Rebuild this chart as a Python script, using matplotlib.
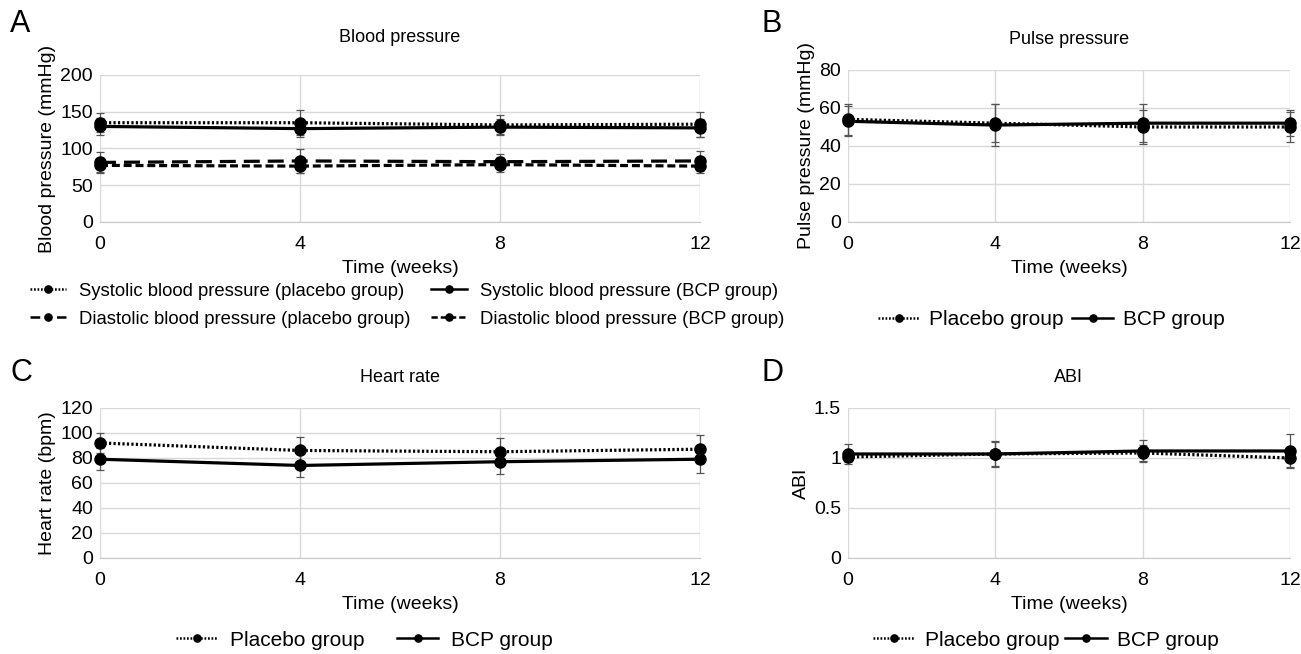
import matplotlib
matplotlib.use("Agg")
import matplotlib.pyplot as plt
import numpy as np

plt.rcParams['font.family'] = ['Liberation Sans', 'DejaVu Sans']

weeks = [0, 4, 8, 12]
week_ticks = [0, 4, 8, 12]

# A: blood pressure
sys_placebo = [135, 135, 132, 133]
sys_placebo_err = [13, 17, 13, 17]
sys_bcp = [130, 127, 129, 128]
sys_bcp_err = [12, 12, 11, 12]
dia_placebo = [81, 83, 82, 83]
dia_placebo_err = [14, 16, 10, 14]
dia_bcp = [77, 76, 78, 76]
dia_bcp_err = [9, 10, 10, 9]

# B: pulse pressure
pp_placebo = [54, 52, 50, 50]
pp_placebo_err = [8, 10, 9, 8]
pp_bcp = [53, 51, 52, 52]
pp_bcp_err = [8, 11, 10, 7]

# C: heart rate
hr_placebo = [92, 86, 85, 87]
hr_placebo_err = [8, 11, 11, 11]
hr_bcp = [79, 74, 77, 79]
hr_bcp_err = [9, 9, 10, 11]

# D: ABI
abi_placebo = [1.01, 1.04, 1.05, 1.00]
abi_placebo_err = [0.05, 0.12, 0.08, 0.09]
abi_bcp = [1.04, 1.04, 1.07, 1.07]
abi_bcp_err = [0.10, 0.13, 0.11, 0.17]

fig = plt.figure(figsize=(13.01, 6.54), dpi=100)

FS = 14
grid_c = '#d9d9d9'
err_c = '#555555'

def style(ax, ylim, yticks, yticklabels, ylabel, title, tpad):
    ax.set_xlim(0, 12)
    ax.set_ylim(*ylim)
    ax.set_xticks(week_ticks)
    ax.set_xticklabels([str(w) for w in week_ticks], fontsize=FS)
    ax.set_yticks(yticks)
    ax.set_yticklabels(yticklabels, fontsize=FS)
    ax.tick_params(axis='x', length=0, pad=10)
    ax.tick_params(axis='y', length=0, pad=5)
    ax.grid(True, color=grid_c, lw=1)
    ax.set_axisbelow(True)
    for s in ['left', 'top', 'right']:
        ax.spines[s].set_visible(False)
    ax.spines['bottom'].set_color('#c8c8c8')
    ax.set_xlabel('Time (weeks)', fontsize=FS, labelpad=5)
    ax.set_ylabel(ylabel, fontsize=FS, labelpad=3)
    ax.set_title(title, fontsize=13, pad=tpad)

def series(ax, y, e, ls, label, lw=2.3):
    ax.errorbar(weeks, y, yerr=e, fmt='none', ecolor=err_c, elinewidth=0.9,
                capsize=3, capthick=0.9, clip_on=False, zorder=2)
    ln, = ax.plot(weeks, y, color='black', ls=ls, lw=lw, marker='o', ms=8,
                  clip_on=False, zorder=3, label=label)
    return ln

def thin_legend(leg):
    for ln in leg.get_lines():
        ln.set_linewidth(1.8)
    return leg

dotted = (0, (0.7, 0.7))
longdash = (0, (5, 2.5))
shortdash = (0, (2.5, 1.2))

# Panel A
axA = fig.add_axes([0.0769, 0.6606, 0.4612, 0.2248])
h1 = series(axA, sys_placebo, sys_placebo_err, dotted, 'Systolic blood pressure (placebo group)')
h2 = series(axA, dia_placebo, dia_placebo_err, longdash, 'Diastolic blood pressure (placebo group)')
h3 = series(axA, sys_bcp, sys_bcp_err, '-', 'Systolic blood pressure (BCP group)')
h4 = series(axA, dia_bcp, dia_bcp_err, shortdash, 'Diastolic blood pressure (BCP group)')
style(axA, (0, 200), [0, 50, 100, 150, 200], ['0', '50', '100', '150', '200'],
      'Blood pressure (mmHg)', 'Blood pressure', 24)
legA = fig.legend([h1, h2, h3, h4], [h.get_label() for h in [h1, h2, h3, h4]],
                  ncol=2, loc='center', bbox_to_anchor=(0.313, 0.533), frameon=False,
                  fontsize=13.3, handlelength=1.95, columnspacing=1.1, labelspacing=0.6,
                  handletextpad=0.7, markerscale=0.65)
thin_legend(legA)
legA.get_lines()[1].set_linestyle((0, (3.9, 6.7)))

# Panel B
axB = fig.add_axes([0.6518, 0.6606, 0.3397, 0.2324])
b1 = series(axB, pp_placebo, pp_placebo_err, dotted, 'Placebo group')
b2 = series(axB, pp_bcp, pp_bcp_err, '-', 'BCP group')
style(axB, (0, 80), [0, 20, 40, 60, 80], ['0', '20', '40', '60', '80'],
      'Pulse pressure (mmHg)', 'Pulse pressure', 19)
thin_legend(fig.legend([b1, b2], ['Placebo group', 'BCP group'], ncol=2, loc='center',
            bbox_to_anchor=(0.808, 0.511), frameon=False, fontsize=15,
            handlelength=2.0, columnspacing=0.4, handletextpad=0.45, markerscale=0.65))

# Panel C
axC = fig.add_axes([0.0769, 0.1468, 0.4612, 0.2294])
c1 = series(axC, hr_placebo, hr_placebo_err, dotted, 'Placebo group')
c2 = series(axC, hr_bcp, hr_bcp_err, '-', 'BCP group')
style(axC, (0, 120), [0, 20, 40, 60, 80, 100, 120],
      ['0', '20', '40', '60', '80', '100', '120'], 'Heart rate (bpm)', 'Heart rate', 19)
thin_legend(fig.legend([c1, c2], ['Placebo group', 'BCP group'], ncol=2, loc='center',
            bbox_to_anchor=(0.280, 0.021), frameon=False, fontsize=15,
            handlelength=2.0, columnspacing=1.55, handletextpad=0.6, markerscale=0.65))

# Panel D
axD = fig.add_axes([0.6518, 0.1468, 0.3397, 0.2294])
d1 = series(axD, abi_placebo, abi_placebo_err, dotted, 'Placebo group')
d2 = series(axD, abi_bcp, abi_bcp_err, '-', 'BCP group')
style(axD, (0, 1.5), [0, 0.5, 1, 1.5], ['0', '0.5', '1', '1.5'], 'ABI', 'ABI', 19)
thin_legend(fig.legend([d1, d2], ['Placebo group', 'BCP group'], ncol=2, loc='center',
            bbox_to_anchor=(0.804, 0.021), frameon=False, fontsize=15,
            handlelength=2.0, columnspacing=0.25, handletextpad=0.5, markerscale=0.65))

# Panel letters
for letter, x, y in [('A', 0.008, 0.963), ('B', 0.585, 0.963),
                     ('C', 0.008, 0.43), ('D', 0.585, 0.43)]:
    fig.text(x, y, letter, fontsize=22, ha='left', va='center')

fig.savefig('out.png', dpi=100)
